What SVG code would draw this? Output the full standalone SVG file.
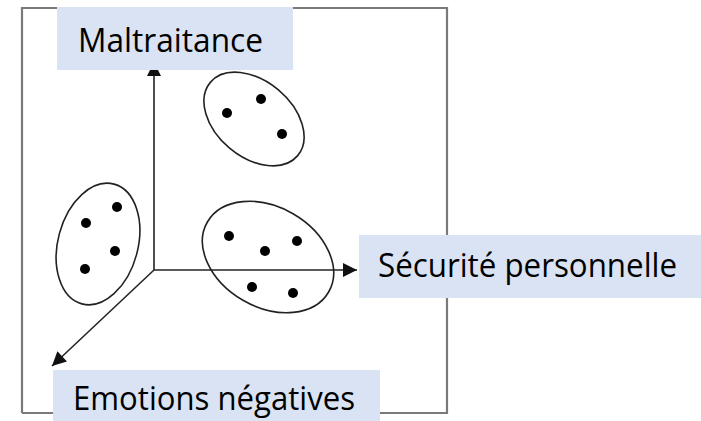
<svg xmlns="http://www.w3.org/2000/svg" width="701" height="421" viewBox="0 0 701 421">
<style>
.frame{fill:none;stroke:#7a7a7a;stroke-width:2.2}
.axis{fill:none;stroke:#222;stroke-width:1.6}
.blob{fill:none;stroke:#222;stroke-width:1.6}
.dot{fill:#000}
.lbl{fill:#dae3f3;stroke:none}
.txt{font-family:"Open Sans","Liberation Sans",sans-serif;font-size:33px;fill:#000}
</style>
<defs>
<marker id="ahb" viewBox="0 0 10 10" refX="10" refY="5" markerWidth="15" markerHeight="14" markerUnits="userSpaceOnUse" orient="auto">
<path d="M0,0 L10,5 L0,10 z" fill="#111"/>
</marker>
</defs>
<rect width="701" height="421" fill="#fff"/>
<g id="frame">
<path class="frame" d="M22,413 L22,8 L447,8 L447,413 L22,413"/>
</g>
<g id="connectors">
<line class="axis" x1="154" y1="270" x2="154" y2="62" marker-end="url(#ahb)"/>
<line class="axis" x1="154" y1="270" x2="357" y2="270" marker-end="url(#ahb)"/>
<line class="axis" x1="154" y1="270" x2="52" y2="366" marker-end="url(#ahb)"/>
</g>
<g id="cluster-top">
<ellipse class="blob" cx="254" cy="119" rx="57" ry="38" transform="rotate(40 254 119)"/>
<circle class="dot" cx="227" cy="113" r="5"/>
<circle class="dot" cx="261" cy="99" r="5"/>
<circle class="dot" cx="282" cy="134" r="5"/>
</g>
<g id="cluster-left">
<ellipse class="blob" cx="98" cy="244" rx="40" ry="62" transform="rotate(15 98 244)"/>
<circle class="dot" cx="86" cy="223" r="5"/>
<circle class="dot" cx="117" cy="207" r="5"/>
<circle class="dot" cx="115" cy="251" r="5"/>
<circle class="dot" cx="85" cy="269" r="5"/>
</g>
<g id="cluster-right">
<ellipse class="blob" cx="268" cy="257" rx="70" ry="50" transform="rotate(30 268 257)"/>
<circle class="dot" cx="229" cy="236" r="5"/>
<circle class="dot" cx="265" cy="251" r="5"/>
<circle class="dot" cx="297" cy="241" r="5"/>
<circle class="dot" cx="252" cy="287" r="5"/>
<circle class="dot" cx="293" cy="293" r="5"/>
</g>
<g id="label-maltraitance">
<rect class="lbl" x="57" y="7" width="236" height="63"/>
<text class="txt" x="78" y="52" textLength="185" lengthAdjust="spacingAndGlyphs">Maltraitance</text>
</g>
<g id="label-securite">
<rect class="lbl" x="359" y="235" width="342" height="63"/>
<text class="txt" x="378" y="277" textLength="299" lengthAdjust="spacingAndGlyphs">Sécurité personnelle</text>
</g>
<g id="label-emotions">
<rect class="lbl" x="53" y="370" width="327" height="51"/>
<text class="txt" x="73" y="410" textLength="282" lengthAdjust="spacingAndGlyphs">Emotions négatives</text>
</g>
</svg>
